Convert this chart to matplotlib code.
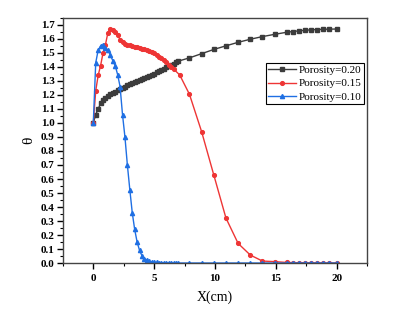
import matplotlib
matplotlib.use("Agg")
import matplotlib.pyplot as plt
from matplotlib.ticker import MultipleLocator

plt.rcParams['font.family'] = ['Liberation Serif', 'DejaVu Serif']
plt.rcParams['mathtext.fontset'] = 'stix'

# data
x_020 = [0.0, 0.2, 0.4, 0.6, 0.8, 1.0, 1.2, 1.4, 1.6, 1.8, 2.0, 2.2, 2.4, 2.6, 2.8,
         3.0, 3.2, 3.4, 3.6, 3.8, 4.0, 4.2, 4.4, 4.6, 4.8, 5.0, 5.2, 5.4, 5.6, 5.8,
         6.0, 6.2, 6.4, 6.6, 6.8, 7.0, 7.9, 8.9, 9.9, 10.9, 11.9, 12.9, 13.9, 14.9,
         15.9, 16.4, 16.9, 17.4, 17.9, 18.4, 18.9, 19.4, 20.0]
theta_020 = [1.000, 1.060, 1.100, 1.140, 1.165, 1.180, 1.192, 1.204, 1.214, 1.224,
             1.236, 1.244, 1.252, 1.260, 1.268, 1.276, 1.283, 1.290, 1.297, 1.304,
             1.311, 1.319, 1.327, 1.335, 1.343, 1.352, 1.361, 1.370, 1.379, 1.388,
             1.397, 1.406, 1.415, 1.424, 1.433, 1.442, 1.465, 1.495, 1.525, 1.551,
             1.576, 1.598, 1.617, 1.633, 1.648, 1.653, 1.658, 1.662, 1.665, 1.667,
             1.669, 1.670, 1.671]

x_015 = [0.0, 0.2, 0.4, 0.6, 0.8, 1.0, 1.2, 1.4, 1.6, 1.8, 2.0, 2.2, 2.4, 2.6, 2.8,
         3.0, 3.2, 3.4, 3.6, 3.8, 4.0, 4.2, 4.4, 4.6, 4.8, 5.0, 5.2, 5.4, 5.6, 5.8,
         6.0, 6.2, 6.4, 6.6, 7.1, 7.9, 8.9, 9.9, 10.9, 11.9, 12.9, 13.9, 14.9,
         15.9, 16.4, 16.9, 17.4, 17.9, 18.4, 18.9, 19.4, 20.0]
theta_015 = [1.000, 1.230, 1.340, 1.410, 1.500, 1.560, 1.645, 1.672, 1.665, 1.652,
             1.630, 1.595, 1.575, 1.567, 1.560, 1.555, 1.550, 1.545, 1.540, 1.535,
             1.530, 1.525, 1.520, 1.513, 1.505, 1.497, 1.486, 1.474, 1.461, 1.447,
             1.432, 1.417, 1.400, 1.385, 1.343, 1.205, 0.938, 0.629, 0.321, 0.140,
             0.057, 0.014, 0.010, 0.004, 0.003, 0.002, 0.002, 0.001, 0.001, 0.0,
             0.0, 0.0]

x_010 = x_020
theta_010 = [1.000, 1.430, 1.520, 1.550, 1.555, 1.535, 1.520, 1.486, 1.445, 1.410,
             1.345, 1.260, 1.060, 0.900, 0.700, 0.525, 0.360, 0.240, 0.150, 0.090,
             0.052, 0.032, 0.020, 0.012, 0.008, 0.005, 0.004, 0.003, 0.002, 0.002,
             0.001, 0.001, 0.001, 0.0, 0.0, 0.0,
             0.0, 0.0, 0.0, 0.0, 0.0, 0.0, 0.0, 0.0, 0.0,
             0.0, 0.0, 0.0, 0.0, 0.0, 0.0, 0.0, 0.0]

labels = ['Porosity=0.20', 'Porosity=0.15', 'Porosity=0.10']

fig = plt.figure(figsize=(4.03, 3.15), dpi=100)
ax = fig.add_axes([0.156, 0.165, 0.755, 0.778])

ax.plot(x_020, theta_020, color='#3c3c3c', marker='s', markersize=2.4, lw=1, label=labels[0])
ax.plot(x_015, theta_015, color='#ee3535', marker='o', markersize=2.7, lw=1, label=labels[1])
ax.plot(x_010, theta_010, color='#1f6fe3', marker='^', markersize=3, lw=1, label=labels[2])

ax.set_xlim(-2.5, 22.5)
ax.set_ylim(0, 1.75)
ax.xaxis.set_minor_locator(MultipleLocator(2.5))
ax.yaxis.set_major_locator(MultipleLocator(0.1))
ax.yaxis.set_minor_locator(MultipleLocator(0.05))
ax.set_xticks([0, 5, 10, 15, 20])
ax.tick_params(which='major', direction='out', length=4, width=1, labelsize=8, pad=2)
ax.tick_params(which='minor', direction='out', length=2.2, width=0.8)
ax.tick_params(axis='x', pad=4)
for lab in ax.get_xticklabels() + ax.get_yticklabels():
    lab.set_fontweight('bold')
for s in ax.spines.values():
    s.set_color('#444444')
    s.set_linewidth(1)

ax.set_xlabel('X(cm)', fontsize=10, labelpad=5)
ax.set_ylabel('θ', fontsize=11, labelpad=4)

leg = ax.legend(loc='upper right', bbox_to_anchor=(0.99, 0.815), fontsize=8,
                fancybox=False, framealpha=1, edgecolor='black', borderpad=0.2,
                labelspacing=0.3, handlelength=2.5, handletextpad=0.3, borderaxespad=0)
leg.get_frame().set_linewidth(0.8)

fig.savefig('out.png', dpi=100)
